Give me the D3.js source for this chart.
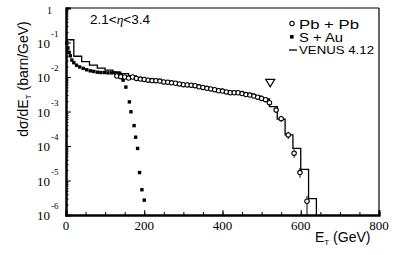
<!DOCTYPE html>
<html>
<head>
<meta charset="utf-8">
<script src="https://cdn.jsdelivr.net/npm/d3@7"></script>
<style>
  body { margin: 0; background: #fff; }
  svg { display: block; }
  .serif { font-family: "Liberation Serif", "DejaVu Serif", serif; }
  .sans { font-family: "Liberation Sans", Arial, sans-serif; }
</style>
</head>
<body>
<div id="root"></div>
<script>
// Pb + Pb (open circles), E_T in GeV and dsigma/dE_T in barn/GeV
const pbE = [130, 140, 150, 160, 170, 180, 190, 200, 210, 220, 230, 240, 250, 260, 270,
  280, 290, 300, 310, 320, 330, 340, 350, 360, 370, 380, 390, 400, 410, 420, 430, 440,
  450, 460, 470, 480, 490, 500, 510, 520, 537, 550, 568, 583, 598, 616];
const pbV = [0.0107, 0.0102, 0.0100, 0.0093, 0.0100, 0.0091, 0.0087, 0.0085, 0.0081,
  0.0079, 0.0078, 0.0076, 0.0072, 0.0071, 0.0068, 0.0066, 0.0063, 0.0060, 0.0059, 0.0058,
  0.0056, 0.0052, 0.0050, 0.0047, 0.0045, 0.0043, 0.0040, 0.0039, 0.0037, 0.0035, 0.0035,
  0.0035, 0.0033, 0.0031, 0.0030, 0.0028, 0.0026, 0.0024, 0.0022, 0.0018, 0.0011,
  0.00062, 0.00021, 6.2e-5, 1.7e-5, 2.5e-6];
// error bars on the tail points
const pbErrE = [537, 550, 568, 583, 598, 616];
const pbErrLo = [0.0009, 0.0005, 0.00016, 4.6e-5, 1.2e-5, 8e-7];
const pbErrHi = [0.0013, 0.00075, 0.00026, 8e-5, 2.3e-5, 3.6e-6];

// S + Au (filled squares)
const sauE = [2, 5, 8, 11, 15, 20, 27, 35, 44, 53, 62, 71, 80, 89, 98, 107, 116, 125,
  134, 141, 146, 153, 162, 166, 174, 178, 183, 188, 194, 200];
const sauV = [0.098, 0.069, 0.052, 0.041, 0.031, 0.026, 0.022, 0.0195, 0.0178, 0.0162,
  0.0151, 0.0145, 0.0138, 0.0135, 0.0135, 0.0132, 0.0132, 0.0132, 0.0129, 0.0115, 0.0081,
  0.0051, 0.0019, 0.00098, 0.00039, 0.00018, 8.5e-5, 1.7e-5, 5.4e-6, 2.7e-6];

// VENUS 4.12 histogram, 20 GeV bins from 0 to 640
const venusEdges = d3.range(0, 641, 20);
const venusV = [0.12, 0.040, 0.028, 0.022, 0.018, 0.0158, 0.0138, 0.0126, 0.0107, 0.0095,
  0.0085, 0.0083, 0.0074, 0.0071, 0.0065, 0.0063, 0.0060, 0.0051, 0.0046, 0.0044, 0.0039,
  0.0038, 0.0035, 0.0032, 0.0028, 0.0023, 0.00138, 0.0006, 0.00021, 8.5e-5, 2.1e-5, 3.0e-6];

// open triangle marker
const triE = [522];
const triV = [0.0068];

const xTicks = [0, 200, 400, 600, 800];
const yTicks = [1e-6, 1e-5, 1e-4, 1e-3, 1e-2, 1e-1, 1];
const legendNames = ["Pb + Pb", "S + Au", "VENUS 4.12"];

const width = 399;
const height = 255;

const svg = d3.select("#root")
  .append("svg")
  .attr("width", width)
  .attr("height", height);

const x = d3.scaleLinear().domain([0, 800]).range([66, 379]);
const y = d3.scaleLog().domain([1e-6, 1]).range([215, 8]);

// frame
svg.append("line").attr("x1", 66).attr("x2", 379).attr("y1", 8).attr("y2", 8)
  .attr("stroke", "#000").attr("stroke-width", 1.2);
svg.append("line").attr("x1", 379).attr("x2", 379).attr("y1", 8).attr("y2", 215)
  .attr("stroke", "#000").attr("stroke-width", 1.2);

// axes with inward ticks
const xAxis = d3.axisTop(x).tickValues(xTicks).tickSize(5).tickFormat("");
const xMinor = d3.axisTop(x).tickValues(d3.range(0, 801, 50)).tickSize(3).tickFormat("");
svg.append("g").attr("transform", "translate(0,215)").call(xMinor);
svg.append("g").attr("transform", "translate(0,215)").call(xAxis);

let yMinorVals = [];
for (let p = -6; p < 0; p++) {
  for (let k = 2; k <= 9; k++) yMinorVals.push(k * Math.pow(10, p));
}
const yAxis = d3.axisRight(y).tickValues(yTicks).tickSize(5).tickFormat("");
const yMinor = d3.axisRight(y).tickValues(yMinorVals).tickSize(2.5).tickFormat("");
svg.append("g").attr("transform", "translate(66,0)").call(yMinor);
svg.append("g").attr("transform", "translate(66,0)").call(yAxis);

svg.selectAll(".domain").attr("stroke-width", 2);
svg.selectAll(".tick line").attr("stroke-width", 1);

// tick labels
svg.selectAll(".xlab")
  .data(xTicks)
  .join("text")
  .attr("class", "serif")
  .attr("x", (d) => x(d))
  .attr("y", 230)
  .attr("text-anchor", "middle")
  .attr("font-size", 13)
  .text((d) => d);

yTicks.forEach((d) => {
  const p = Math.round(Math.log10(d));
  if (p === 0) {
    svg.append("text").attr("class", "serif")
      .attr("x", 52).attr("y", y(d) + 6)
      .attr("text-anchor", "end").attr("font-size", 10).text("1");
    return;
  }
  svg.append("text").attr("class", "serif")
    .attr("x", 50).attr("y", y(d) + 5)
    .attr("text-anchor", "end").attr("font-size", 13).text("10");
  svg.append("text").attr("class", "serif")
    .attr("x", 51).attr("y", y(d) - 6)
    .attr("font-size", 9).text(p);
});

// histogram
let hist = [];
venusV.forEach((v, i) => {
  hist.push([venusEdges[i], v]);
  hist.push([venusEdges[i + 1], v]);
});
hist.push([venusEdges[venusEdges.length - 1], 1e-6]);
svg.append("path")
  .attr("d", d3.line().x((d) => x(d[0])).y((d) => y(d[1]))(hist))
  .attr("fill", "none")
  .attr("stroke", "#000")
  .attr("stroke-width", 1.3);

// S + Au squares
svg.selectAll(".sau")
  .data(sauE)
  .join("rect")
  .attr("x", (d) => x(d) - 1.7)
  .attr("y", (d, i) => y(sauV[i]) - 1.7)
  .attr("width", 3.4)
  .attr("height", 3.4)
  .attr("fill", "#000");

// Pb + Pb error bars and circles
svg.selectAll(".err")
  .data(pbErrE)
  .join("line")
  .attr("x1", (d) => x(d))
  .attr("x2", (d) => x(d))
  .attr("y1", (d, i) => y(pbErrHi[i]))
  .attr("y2", (d, i) => Math.min(y(pbErrLo[i]), 215))
  .attr("stroke", "#000")
  .attr("stroke-width", 1);

svg.selectAll(".pb")
  .data(pbE)
  .join("circle")
  .attr("cx", (d) => x(d))
  .attr("cy", (d, i) => y(pbV[i]))
  .attr("r", 2.2)
  .attr("fill", "#fff")
  .attr("stroke", "#000")
  .attr("stroke-width", 1.1);

// triangle marker
svg.selectAll(".tri")
  .data(triE)
  .join("path")
  .attr("transform", (d, i) => `translate(${x(d)},${y(triV[i])})`)
  .attr("d", "M-4.5,-3.5 L4.5,-3.5 L0,4 Z")
  .attr("fill", "none")
  .attr("stroke", "#000")
  .attr("stroke-width", 1.2);

// eta range label
svg.append("text").attr("class", "sans")
  .attr("x", 90).attr("y", 24)
  .attr("font-size", 13.5)
  .html('2.1&lt;<tspan font-style="italic" font-family="Liberation Serif">η</tspan>&lt;3.4');

// legend
const legend = svg.append("g");
legend.append("circle").attr("cx", 292).attr("cy", 23.5).attr("r", 2.2)
  .attr("fill", "#fff").attr("stroke", "#000").attr("stroke-width", 1.1);
legend.append("rect").attr("x", 290).attr("y", 35).attr("width", 3.6).attr("height", 3.6)
  .attr("fill", "#000");
legend.append("line").attr("x1", 289).attr("x2", 297).attr("y1", 50).attr("y2", 50)
  .attr("stroke", "#000").attr("stroke-width", 1.3);
legend.selectAll(".lt")
  .data(legendNames)
  .join("text")
  .attr("class", "sans")
  .attr("x", 299)
  .attr("y", (d, i) => [28.5, 42, 54][i])
  .attr("font-size", (d, i) => (i === 2 ? 11 : 13.5))
  .attr("textLength", (d, i) => [60, 44, 75][i])
  .attr("lengthAdjust", "spacingAndGlyphs")
  .text((d) => d);

// axis titles
svg.append("text").attr("class", "sans")
  .attr("transform", "translate(28,79) rotate(-90)")
  .attr("text-anchor", "middle")
  .attr("font-size", 14)
  .html('dσ/dE<tspan font-size="8" dy="3">T</tspan><tspan dy="-3"> (barn/GeV)</tspan>');

svg.append("text").attr("class", "sans")
  .attr("x", 315).attr("y", 242)
  .attr("font-size", 14)
  .html('E<tspan font-size="8" dy="3">T</tspan><tspan dy="-3">  (GeV)</tspan>');
</script>
</body>
</html>
